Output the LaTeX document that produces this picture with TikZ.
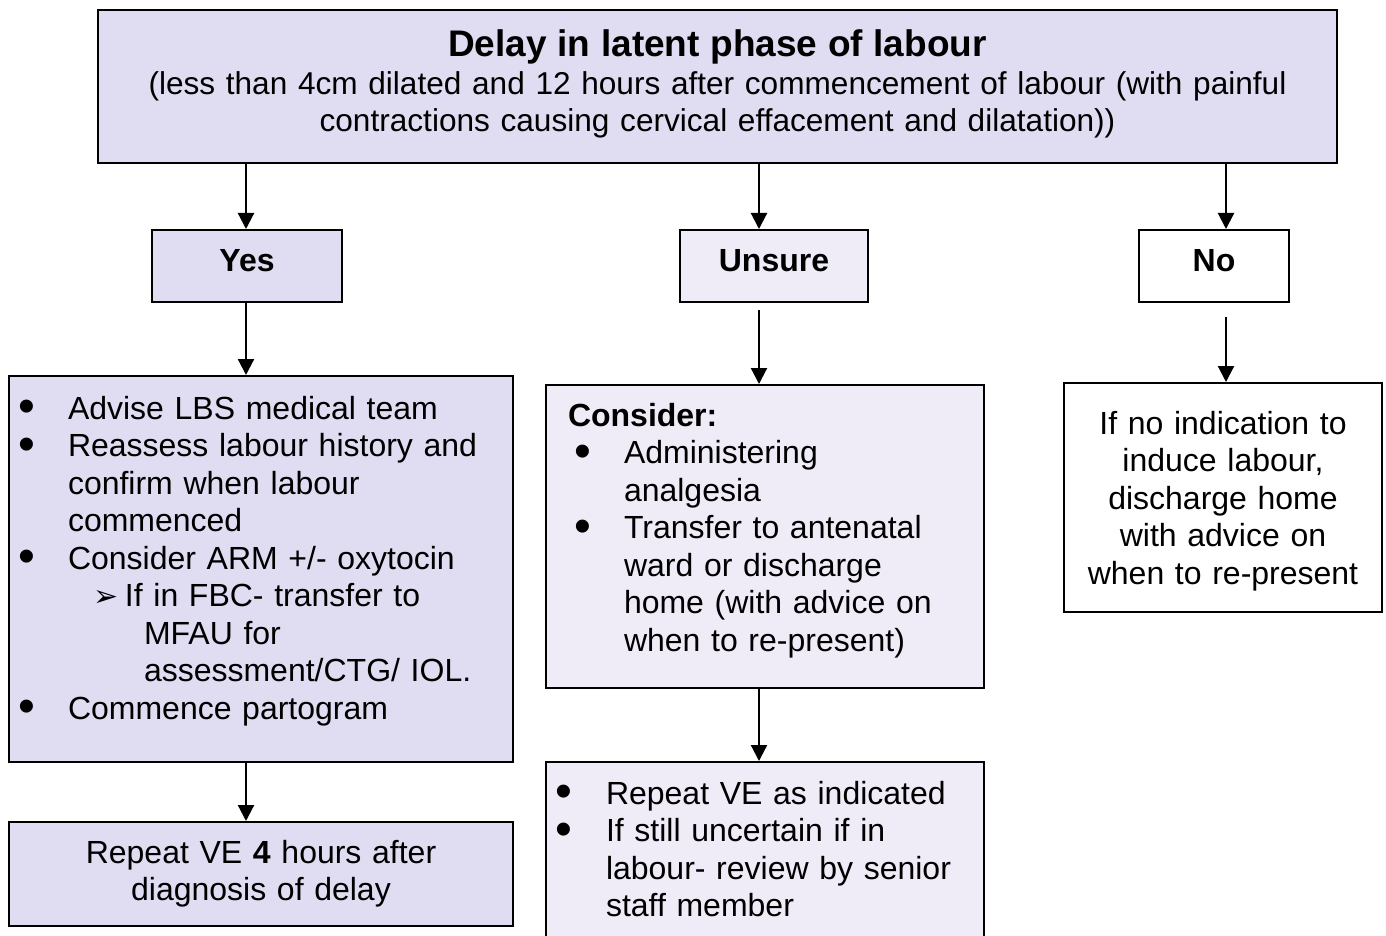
\documentclass[tikz,border=0pt]{standalone}
\usepackage{fontspec}
\setmainfont{Liberation Sans}
\newfontfamily\symbfont{DejaVu Sans}
\usepackage{graphicx}
\usetikzlibrary{arrows.meta,calc}

\definecolor{lilac}{HTML}{E0DCF1}
\definecolor{palelilac}{HTML}{EFECF8}

% bullet lists inside the boxes
\newlength{\bulx}
\newlength{\txtx}
\newcommand{\bdot}{\raisebox{-0.12em}{\scalebox{1.5}{\textbullet}}}
\newcommand{\bitem}[1]{\noindent\hangindent=\txtx\hangafter=1
  \makebox[\txtx][l]{\hspace*{\bulx}\makebox[0pt][c]{\bdot}}#1\par}
\newcommand{\subarrow}{{\symbfont\fontsize{15}{15}\selectfont ➢}}

\tikzset{
  flowbox/.style={draw, line width=1pt, inner sep=0pt, anchor=north west,
    font=\fontsize{16}{18.75}\selectfont},
  answer/.style={flowbox, align=center, font=\fontsize{16}{18.75}\selectfont\bfseries,
    text height=20.5pt, text depth=15.5pt},
  darkfill/.style={fill=lilac},
  lightfill/.style={fill=palelilac},
  bullets/.style 2 args={execute at begin node={\setlength{\bulx}{#1}\setlength{\txtx}{#2}}},
  flowarrow/.style={line width=1.1pt, -{Triangle[width=8pt,length=8pt]}}
}

\begin{document}
\begin{tikzpicture}[x=0.5pt, y=-0.5pt]

  \useasboundingbox (0,0) rectangle (1386,936);
  \clip (0,0) rectangle (1386,936);

  % Define nodes
  \node[flowbox, darkfill, text width=619.5pt, align=center, text height=23.5pt, text depth=53pt]
    at (97,9) (delay) {{\fontsize{18.5}{19}\selectfont\bfseries Delay in latent phase of labour}\\
    {\fontsize{15.8}{18.75}\selectfont (less than 4cm dilated and 12 hours after commencement of labour (with painful}\\
    {\fontsize{15.8}{18.75}\selectfont contractions causing cervical effacement and dilatation))}};

  \node[answer, darkfill, text width=95pt]  at (151,229)  (yes)    {Yes};
  \node[answer, lightfill, text width=94pt] at (679,229)  (unsure) {Unsure};
  \node[answer, fill=white, text width=75pt] at (1138,229) (no)     {No};

  \node[flowbox, darkfill, bullets={9pt}{29.5pt}, text width=252pt, text height=21.5pt, text depth=171.5pt]
    at (8,375) (advise) {%
    \bitem{Advise LBS medical team}
    \bitem{Reassess labour history and\newline confirm when labour\newline commenced}
    \bitem{Consider ARM +/- oxytocin\newline
      \hspace*{13pt}\makebox[15.5pt][l]{\subarrow}If in FBC- transfer to\newline
      \hspace*{38pt}MFAU for\newline
      \hspace*{38pt}assessment/CTG/ IOL.}
    \bitem{Commence partogram}};

  \node[flowbox, lightfill, bullets={18.5pt}{39pt}, text width=219pt, text height=20.5pt, text depth=131pt]
    at (545,384) (consider) {%
    \noindent\hspace*{11pt}\textbf{Consider:}\par
    \bitem{Administering\newline analgesia}
    \bitem{Transfer to antenatal\newline ward or discharge\newline home (with advice on\newline when to re-present)}};

  \node[flowbox, fill=white, align=center, text width=159pt, text height=25.5pt, text depth=89pt]
    at (1063,382) (stayhome) {If no indication to\\induce labour,\\discharge home\\with advice on\\when to re-present};

  \node[flowbox, darkfill, align=center, text width=252pt, text height=20.5pt, text depth=31.5pt]
    at (8,821) (repeat4) {Repeat VE \textbf{4} hours after\\diagnosis of delay};

  \node[flowbox, lightfill, bullets={9pt}{30pt}, text width=219pt, text height=21pt, text depth=68.5pt]
    at (545,761) (repeatve) {%
    \bitem{Repeat VE as indicated}
    \bitem{If still uncertain if in\newline labour- review by senior\newline staff member}};

  % Columns of the arrows
  \coordinate (colY) at (246,0);
  \coordinate (colU) at (759,0);
  \coordinate (colN) at (1226,0);

  % Connect the nodes
  \draw[flowarrow] (delay.south -| colY) -- (yes.north -| colY);
  \draw[flowarrow] (delay.south -| colU) -- (unsure.north -| colU);
  \draw[flowarrow] (delay.south -| colN) -- (no.north -| colN);
  \draw[flowarrow] (yes.south -| colY) -- (advise.north -| colY);
  \draw[flowarrow] ($(unsure.south -| colU)+(0,7)$) -- (consider.north -| colU);
  \draw[flowarrow] ($(no.south -| colN)+(0,14)$) -- (stayhome.north -| colN);
  \draw[flowarrow] (advise.south -| colY) -- (repeat4.north -| colY);
  \draw[flowarrow] (consider.south -| colU) -- (repeatve.north -| colU);

\end{tikzpicture}
\end{document}
